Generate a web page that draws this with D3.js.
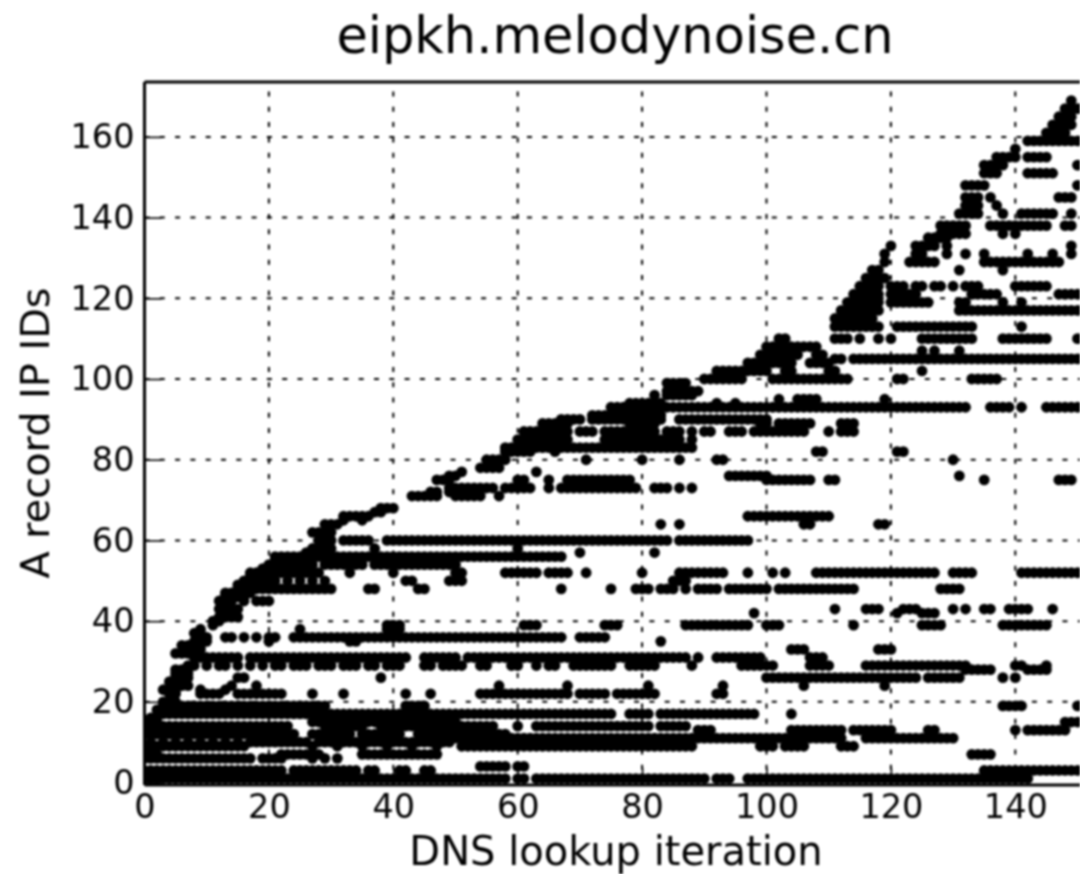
<!DOCTYPE html>
<html>

<head>
    <title>eipkh.melodynoise.cn</title>
    <style>
        html, body { margin: 0; padding: 0; background: #fff; overflow: hidden; }
        svg { display: block; filter: blur(0.8px); }
        text { font-family: "DejaVu Sans", sans-serif; fill: #000; }
    </style>
    <script src="https://d3js.org/d3.v7.min.js"></script>
</head>

<body>
    <svg width="1080" height="874"></svg>

    <script>
        var xTicks = [0, 20, 40, 60, 80, 100, 120, 140];
        var yTicks = [0, 20, 40, 60, 80, 100, 120, 140, 160];

        // A record IP ID of each row, same order as lookupIters
        var ipIds = [1, 3, 4, 6, 7, 9, 10, 11, 12, 13, 14, 15, 16, 17, 18, 19, 20, 22, 23, 24, 25, 26, 27, 28, 29, 31, 32, 33, 34, 35, 36, 37, 38, 39, 40, 41, 42, 43, 45, 46, 47, 48, 49, 50, 51, 52, 53, 54, 55, 56, 57, 58, 60, 62, 64, 65, 66, 67, 68, 71, 72, 73, 75, 76, 77, 78, 80, 82, 83, 85, 87, 89, 90, 91, 93, 94, 95, 96, 97, 99, 100, 102, 104, 105, 106, 107, 108, 110, 113, 115, 117, 119, 121, 123, 125, 127, 129, 131, 133, 135, 136, 138, 141, 143, 145, 148, 151, 153, 155, 157, 159, 161, 163, 165, 167, 169];

        // DNS lookup iterations at which each IP ID was seen
        var lookupIters = [
            [0,1,2,3,4,5,6,7,8,9,10,11,12,13,14,15,16,17,18,19,20,21,22,23,24,25,26,27,28,29,30,31,32,33,34,35,36,37,38,39,40,41,42,43,44,45,46,47,48,49,50,51,52,53,54,55,56,57,58,60,61,63,64,65,66,67,68,69,70,71,72,73,74,75,76,77,78,79,80,81,82,83,84,85,86,87,88,89,90,92,93,94,97,98,99,100,101,102,103,104,105,106,107,108,109,110,111,112,113,114,115,116,117,118,119,120,121,122,123,124,125,126,127,128,129,130,131,132,133,134,135,136,137,138,139,140,141,142],
            [0,1,2,3,4,5,6,7,8,9,10,11,12,13,14,15,16,17,18,19,20,21,22,24,25,26,27,28,29,30,31,32,33,34,36,37,41,42,45,46,135,136,137,138,139,140,141,142,143,144,145,146,147,148,149,150],
            [54,55,56,57,58,60,61],
            [0,1,2,3,4,5,6,7,8,9,10,11,12,13,14,15,16,17,19,20,21,22,27,29,31],
            [0,1,2,22,23,24,25,26,27,28,35,36,37,38,39,40,41,42,43,44,45,46,47,133,134,135,136],
            [0,1,2,3,4,5,6,7,8,9,10,11,12,13,14,15,16,27,31,35,39,43,47,51,52,53,54,55,56,57,58,59,60,61,62,63,64,65,66,67,68,69,70,71,72,73,74,75,76,77,78,79,80,81,82,83,84,85,86,87,88,99,100,101,103,104,105,106,112,113,114],
            [1,3,5,7,9,11,13,15,17,18,19,20,21,22,23,24,25,26,28,29,30,31,32,33,34,35,36,37,38,39,40,41,42,43,44,45,46,47,48,49],
            [49,50,51,52,53,54,55,56,57,58,59,60,61,62,63,64,65,66,67,68,69,70,71,72,73,74,75,76,77,78,79,80,81,82,83,84,85,86,87,88,89,90,91,92,93,94,95,96,97,98,99,100,101,102,103,104,105,106,107,108,109,110,111,112,116,117,118,119,120,121,122,123,124,125,126,127,128,129,130],
            [0,1,2,3,4,5,6,7,8,9,10,11,12,13,14,15,16,17,18,19,20,21,22,23,24,27,28,29,30,31,32,33,35,36,37,38,39,40,41,44,45,46,47,48,49,50,51,52,53,54,55,56,57,58],
            [89,90,91,104,105,106,107,108,109,110,111,112,114,115,116,117,118,119,120,126,127,140,142,143,144,145,146,147,148],
            [0,1,2,3,4,5,6,7,8,9,10,11,12,13,14,15,16,17,18,19,20,21,22,23,29,30,31,32,33,34,35,38,39,40,41,42,43,44,45,46,47,48,49,50,51,52,53,54,55,56,60,63,64,65,66,67,68,69,70,71,72,73,74,75,76,77,78,79,80,81,83,84,85,86,87],
            [0,1,2,27,28,29,30,31,32,33,34,35,36,37,38,39,40,41,42,43,44,45,46,47,48,49,50,148,149,150],
            [1,2],
            [3,4,5,6,7,8,9,10,11,12,13,14,15,16,17,18,19,20,21,22,23,24,25,26,27,28,29,30,31,32,33,34,35,36,37,38,39,40,41,42,43,44,45,46,47,48,49,50,51,52,53,54,55,56,57,58,59,60,61,62,63,64,65,66,67,68,69,70,71,72,73,74,75,78,79,80,81,83,84,85,86,87,88,89,90,91,92,93,94,95,96,97,98,104],
            [2,3],
            [3,4,5,6,7,8,9,10,11,12,13,14,15,16,17,18,19,20,21,22,23,24,25,26,27,28,29,42,43,44,45,138,139,140,141,150],
            [3,4,5],
            [4,5,9,10,11,12,15,16,17,18,19,20,21,22,27,32,42,46,54,55,56,57,58,59,60,61,62,63,64,65,66,67,68,70,71,72,73,74,76,77,78,79,80,81,82,92,93],
            [3,4,5,9,13],
            [5,6,7,14,18,57,68,81,93,106,119],
            [4,5,6],
            [5,6,7,15,16,38,100,101,102,103,104,105,106,107,108,109,110,111,112,113,114,115,116,117,118,119,120,121,122,123,124,126,127,128,129,130,131,138,140],
            [5,6,7],
            [5,6,7,132,133,134,135,136,142,143,144,145],
            [7,8,10,12,13,15,17,19,21,22,24,25,26,28,29,30,32,33,34,36,37,39,40,41,45,46,48,49,50,51,54,55,59,60,63,65,66,69,70,71,72,73,74,75,78,79,80,81,82,88,96,97,98,99,100,101,107,108,109,110,116,117,118,119,120,121,122,123,124,125,126,127,128,129,130,131,132,140,141,145],
            [8,9,10,11,12,13,14,15,17,18,19,20,21,22,23,24,25,26,27,28,29,30,31,32,33,34,35,36,37,38,39,40,41,42,45,46,47,48,49,50,52,53,54,55,56,57,58,59,60,61,62,63,64,65,66,67,68,69,70,71,72,73,74,75,76,77,78,79,80,81,82,83,84,85,86,87,89,92,93,94,95,96,97,98,99,107,108,109],
            [5,6,7,8],
            [7,8,9,104,105,106,118,119,120],
            [6,7,8,9],
            [8,9,10,20,33,34,83],
            [9,10,13,14,16,18,20,21,24,25,26,27,28,29,30,31,32,33,34,35,36,37,38,39,40,41,42,43,44,45,46,47,48,49,50,51,52,53,54,55,56,57,58,59,60,61,62,63,64,65,66,67,70,71,72,73,74],
            [8,9],
            [9,25,39,40,41],
            [11,39,40,41,61,62,63,74,75,76,87,88,89,90,91,92,93,94,95,96,97,100,101,102,114,125,126,127,128,138,139,140,141,142,143,144,145],
            [11,12],
            [12,13,14,15],
            [98,121,125,126,127],
            [12,13,14,15,111,116,117,118,122,123,124,130,132,135,136,139,140,141,142,146],
            [12,13,14,16,18,19,20],
            [13,14,15,16],
            [13,14,15,16,17],
            [15,16,17,18,19,20,21,22,23,24,25,26,27,28,29,30,36,37,44,45,67,75,79,80,81,83,84,85,87,89,90,91,92,94,95,96,97,98,99,100,102,103,104,105,106,107,108,109,110,111,112,113,114,128,129,130,131],
            [15,16,17,18],
            [16,17,18,19,20,21,23,25,27,29,42,43,49,50,51,85,86,87],
            [17,18,19],
            [17,18,19,20,21,22,23,24,25,26,27,28,33,40,50,51,58,59,60,61,62,63,65,66,67,68,71,80,86,87,88,89,90,91,92,93,97,101,103,108,109,110,111,112,113,114,115,116,117,118,119,120,121,122,123,124,125,126,127,130,131,132,133,141,142,143,144,145,146,147,148,149,150],
            [19,20],
            [20,21,22,23,24,25,26,27,29,30,31,32,33,34,35,37,38,39,40,41,42,43,44,45,46,47,48,49,50],
            [21,22,23],
            [21,22,23,24,25,26,27,28,29,30,31,32,33,34,35,36,37,38,39,40,41,42,43,44,45,46,47,48,49,50,51,52,53,54,55,56,57,58,59,60,61,62,63,64,65,66,67],
            [26,70,82],
            [27,28,29,30,37,60],
            [28,29,30,32,33,34,35,36,39,40,41,42,43,44,45,46,47,48,49,50,51,52,53,54,55,56,57,58,59,60,61,62,63,64,65,66,67,68,69,70,71,72,73,74,75,76,77,78,79,80,81,82,83,84,86,87,88,89,90,91,92,93,94,95,96,97],
            [27,28,29,30],
            [29,30,31,83,86,106,107,118,119],
            [32,35],
            [32,33,34,35,36,97,98,99,100,101,102,103,104,105,106,107,108,109,110],
            [37,38],
            [38,39,40],
            [43,44,45,46,47,50,51,52,53,54,57],
            [46,47,49],
            [49,50,51,52,53,54,55,56,58,59,60,61,62,65,67,68,69,70,71,72,73,74,75,76,77,78,79,82,83,84,86,88],
            [47,48,49,60,61,65,68,69,70,71,72,73,74,75,76,77,78,100,101,102,103,104,105,106,107,110,111,135,147,148,149],
            [49,50,94,95,96,97,98,99,100,131],
            [51,63],
            [54,55,56,57],
            [55,56,57,58,71,80,86,92,93,130],
            [58,59,60,61,62,66,108,109,121,122],
            [58,59,60,61,62,63,64,65,66,67,68,69,70,71,72,73,74,75,76,77,78,79,80,81,82,83,84,85,86,87,88],
            [60,61,62,63,64,65,66,67,68,74,75,76,77,78,79,80,81,82,83,84,85,86,88],
            [61,62,63,64,65,66,67,68,70,71,72,74,75,76,77,78,79,80,81,82,84,85,86,88,90,91,94,95,96,98,99,100,101,102,103,104,105,106,110,112,113,114],
            [64,65,66,67,68,78,79,80,81,82,99,100,102,103,104,105,106,107,112,113,114],
            [67,68,69,70,72,73,74,75,76,77,78,79,80,81,82,83,86,87,88,89,90,91,92,93,94,95,96,97,98,99,100],
            [72,73,74,75,76,77,78,79,80,81,82,83],
            [75,76,77,78,79,80,81,82,83,84,85,86,87,88,89,90,91,92,93,94,95,96,97,98,99,100,101,102,103,104,105,106,107,108,109,110,111,112,113,114,115,116,117,118,119,120,121,122,123,124,125,126,127,128,129,130,131,132,136,137,138,139,141,145,146,147,148,149,150],
            [78,79,80,81,82,83,92,95],
            [102,105,106,107,108,119],
            [82,84,85,86,87,88],
            [84,85,86,87,88,89],
            [84,85,86,87],
            [90,91,92,93,94,95,96,101,102,103,104,105,106,107,108,109,110,111,112,113,121,122,133,134,135,136,137],
            [92,93,94,95,96,97,98,99,100,103,104,110,111,125],
            [97,98,99,100,101,102,103,104,107,108,109,110],
            [100,101,103,111,112,114,115,116,117,118,119,120,121,122,123,124,125,126,127,128,129,130,131,132,133,134,135,136,137,138,139,140,141,142,143,144,145,146,147,148,149,150],
            [99,100,101,102,103,104,105,108,109],
            [103,125,127,131],
            [100,101,102,103,104,105,106,107,108],
            [102,103,111,112,113,115,118,120,125,126,127,128,129,130,131,132,133,138,139,140,141,142,143,144,145,150],
            [111,112,113,114,115,116,117,118,121,122,123,124,125,126,127,128,129,130,131,132,133,141],
            [111,112,113,114,115,116,117],
            [112,113,114,115,116,117,118,131,132,133,134,135,136,137,138,139,140,141,142,143,144,145,146,147,148,149,150],
            [113,114,115,116,117,118,120,121,122,123,124,125,126,131,132,138,141],
            [114,115,116,117,118,120,121,122,123,124,133,134,135,136,137,147,148,149,150],
            [115,116,117,118,120,121,122,124,125,127,128,130,132,133,134,140,141,142,143,144,145],
            [116,117,118,119],
            [117,118,131,138],
            [119,123,124,125,126,127,135,136,137,138,139,140,141,142,143,144,145,146,147],
            [119,124,125,129,132,135,142,146,149],
            [120,124,125,126,127,129,149],
            [126,127,128,129],
            [128,129,130,131,132,138,140],
            [128,129,130,131,132,136,137,138,139,140,141,142,143,144,145,148,149],
            [131,132,133,134,138,141,142,143,144,145,146,149],
            [132,133,134,137],
            [132,133,134,136,147,148,149],
            [132,133,134,135,150],
            [135,136,137,142,143,144,145,146],
            [135,136,137,138,150],
            [137,138,139,140,142,143,144,145],
            [140],
            [142,143,144,145,146,147,148,149,150],
            [145,146,147,148],
            [146,147,148,149],
            [147,148,149],
            [148,149,150],
            [149]
        ];

        var margin = { left: 144.5, top: 82, bottom: 785 };

        var x = d3.scaleLinear().domain([0, 160]).range([margin.left, margin.left + 160 * 6.22]);
        var y = d3.scaleLinear().domain([-0.6, 173.6]).range([margin.bottom, margin.top]);

        var svg = d3.select("svg");

        svg.append("clipPath").attr("id", "plot")
            .append("rect")
            .attr("x", margin.left).attr("y", margin.top)
            .attr("width", 1080 - margin.left).attr("height", margin.bottom - margin.top);

        // dotted grid
        var grid = svg.append("g").attr("stroke", "#000").attr("stroke-width", 2).attr("stroke-dasharray", "5,10.3");
        grid.selectAll("line.gx").data(xTicks.slice(1)).enter().append("line")
            .attr("x1", function (d) { return x(d); }).attr("x2", function (d) { return x(d); })
            .attr("y1", margin.bottom).attr("y2", margin.top);
        grid.selectAll("line.gy").data(yTicks.slice(1)).enter().append("line")
            .attr("y1", function (d) { return y(d); }).attr("y2", function (d) { return y(d); })
            .attr("x1", margin.left).attr("x2", 1080);

        // points, one group per IP ID row
        var rows = svg.append("g").attr("clip-path", "url(#plot)");
        rows.selectAll("g").data(ipIds).enter().append("g")
            .attr("transform", function (d) { return "translate(0," + y(d) + ")"; })
            .selectAll("circle")
            .data(function (d, i) { return lookupIters[i]; })
            .enter().append("circle")
            .attr("cx", function (d) { return x(d); })
            .attr("r", 5.4)
            .attr("fill", "#000");

        // axes with inward ticks
        var xAxis = d3.axisBottom(x).tickValues(xTicks).tickSize(-17).tickPadding(9);
        var yAxis = d3.axisLeft(y).tickValues(yTicks).tickSize(-17).tickPadding(10);

        var gx = svg.append("g").attr("transform", "translate(0," + margin.bottom + ")").call(xAxis);
        var gy = svg.append("g").attr("transform", "translate(" + margin.left + ",0)").call(yAxis);
        gy.selectAll(".tick line").attr("stroke-width", 1.6);
        gx.selectAll(".tick line").attr("stroke-width", 1.6);
        gx.selectAll("text").attr("font-size", 33.5).style("font-family", '"DejaVu Sans"').attr("fill", "#000");
        gy.selectAll("text").attr("font-size", 33.5).style("font-family", '"DejaVu Sans"').attr("fill", "#000");
        gx.select(".domain").remove();
        gy.select(".domain").remove();

        // spines
        var spines = svg.append("g").attr("stroke", "#000").attr("stroke-width", 3);
        spines.append("line").attr("x1", margin.left).attr("x2", 1080).attr("y1", margin.top).attr("y2", margin.top);
        spines.append("line").attr("x1", margin.left).attr("x2", 1080).attr("y1", margin.bottom).attr("y2", margin.bottom);
        spines.append("line").attr("x1", margin.left).attr("x2", margin.left).attr("y1", margin.top).attr("y2", margin.bottom);

        svg.append("text").attr("x", 615).attr("y", 53).attr("text-anchor", "middle")
            .attr("font-size", 51).text("eipkh.melodynoise.cn");
        svg.append("text").attr("x", 616).attr("y", 865).attr("text-anchor", "middle")
            .attr("font-size", 40).text("DNS lookup iteration");
        svg.append("text").attr("transform", "translate(49,433) rotate(-90)").attr("text-anchor", "middle")
            .attr("font-size", 39.8).text("A record IP IDs");
    </script>
</body>

</html>
